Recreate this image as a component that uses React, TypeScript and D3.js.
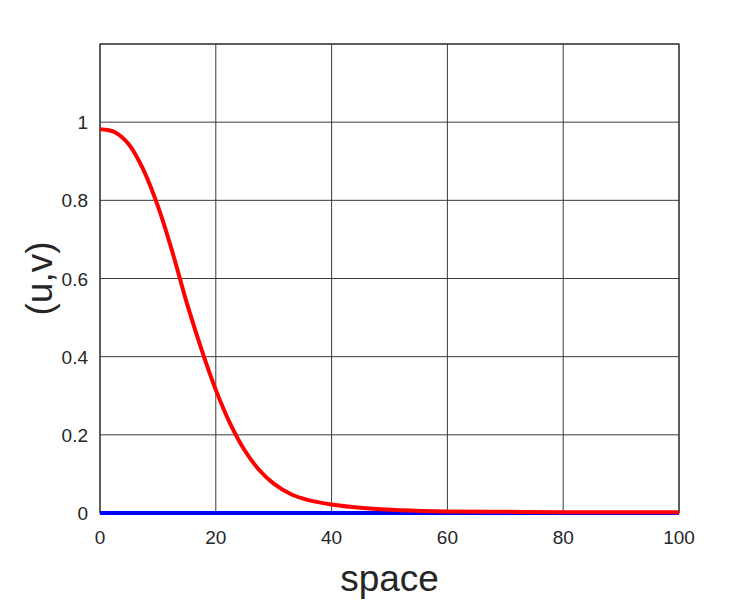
import { useEffect, useRef } from 'react';
import * as d3 from 'd3';

// values
const spaceX = [0, 2.5, 5, 7.5, 10, 12.5, 15, 17.5, 20, 22.5, 25, 27.5, 30, 33, 36, 40, 46, 52, 60, 70, 80, 90, 100];
const uValues = [0.982, 0.975, 0.943, 0.878, 0.785, 0.668, 0.537, 0.42, 0.315, 0.228, 0.16, 0.11, 0.075, 0.048, 0.033, 0.022, 0.012, 0.007, 0.004, 0.003, 0.002, 0.002, 0.002];
const vValues = [0, 0, 0, 0, 0, 0, 0, 0, 0, 0, 0, 0, 0, 0, 0, 0, 0, 0, 0, 0, 0, 0, 0];
const xTicks = [0, 20, 40, 60, 80, 100];
const yTicks = [0, 0.2, 0.4, 0.6, 0.8, 1];
const yGrid = [0, 0.2, 0.4, 0.6, 0.8, 1, 1.2];

const App = () => {
  const svgRef = useRef<SVGSVGElement>(null);
  const width = 750;
  const height = 600;
  const margin = { top: 44, right: 71, bottom: 87, left: 100 };
  const innerW = width - margin.left - margin.right;
  const innerH = height - margin.top - margin.bottom;

  useEffect(() => {
    if (!svgRef.current) return;
    const svg = d3.select(svgRef.current);
    svg.selectAll('*').remove();

    const font = '"Liberation Sans", Arial, sans-serif';
    const textColor = '#262626';

    const x = d3.scaleLinear().domain([0, 100]).range([0, innerW]);
    const y = d3.scaleLinear().domain([0, 1.2]).range([innerH, 0]);

    const g = svg.append('g').attr('transform', `translate(${margin.left},${margin.top})`);

    // grid
    g.selectAll('.vgrid')
      .data(xTicks)
      .enter()
      .append('line')
      .attr('x1', d => x(d))
      .attr('x2', d => x(d))
      .attr('y1', 0)
      .attr('y2', innerH)
      .attr('stroke', '#3a3a3a')
      .attr('stroke-width', 1);

    g.selectAll('.hgrid')
      .data(yGrid)
      .enter()
      .append('line')
      .attr('x1', 0)
      .attr('x2', innerW)
      .attr('y1', d => y(d))
      .attr('y2', d => y(d))
      .attr('stroke', '#3a3a3a')
      .attr('stroke-width', 1);

    // box
    g.append('rect')
      .attr('x', 0)
      .attr('y', 0)
      .attr('width', innerW)
      .attr('height', innerH)
      .attr('fill', 'none')
      .attr('stroke', '#333')
      .attr('stroke-width', 1.2);

    // lines
    const line = d3.line<number>()
      .x((d, i) => x(spaceX[i]))
      .y(d => y(d))
      .curve(d3.curveCatmullRom.alpha(0.5));

    g.append('path')
      .attr('d', line(vValues))
      .attr('fill', 'none')
      .attr('stroke', '#0000ff')
      .attr('stroke-width', 4);

    g.append('path')
      .attr('d', line(uValues))
      .attr('fill', 'none')
      .attr('stroke', '#ff0000')
      .attr('stroke-width', 4);

    // tick labels
    g.selectAll('.xlab')
      .data(xTicks)
      .enter()
      .append('text')
      .attr('x', d => x(d))
      .attr('y', innerH + 31)
      .attr('text-anchor', 'middle')
      .style('font-family', font)
      .style('font-size', '19px')
      .attr('fill', textColor)
      .text(d => d);

    g.selectAll('.ylab')
      .data(yTicks)
      .enter()
      .append('text')
      .attr('x', -12)
      .attr('y', d => y(d) + 7)
      .attr('text-anchor', 'end')
      .style('font-family', font)
      .style('font-size', '19px')
      .attr('fill', textColor)
      .text(d => d);

    // axis titles
    svg.append('text')
      .attr('x', margin.left + innerW / 2)
      .attr('y', 591)
      .attr('text-anchor', 'middle')
      .style('font-family', font)
      .style('font-size', '37px')
      .attr('fill', textColor)
      .text('space');

    svg.append('text')
      .attr('transform', `translate(52,${margin.top + innerH / 2}) rotate(-90)`)
      .attr('text-anchor', 'middle')
      .style('font-family', font)
      .style('font-size', '37px')
      .attr('fill', textColor)
      .text('(u,v)');
  }, []);

  return (
    <svg
      ref={svgRef}
      width={width}
      height={height}
      style={{ position: 'absolute', left: 0, top: 0, background: '#fff' }}
    />
  );
};

export default App;
